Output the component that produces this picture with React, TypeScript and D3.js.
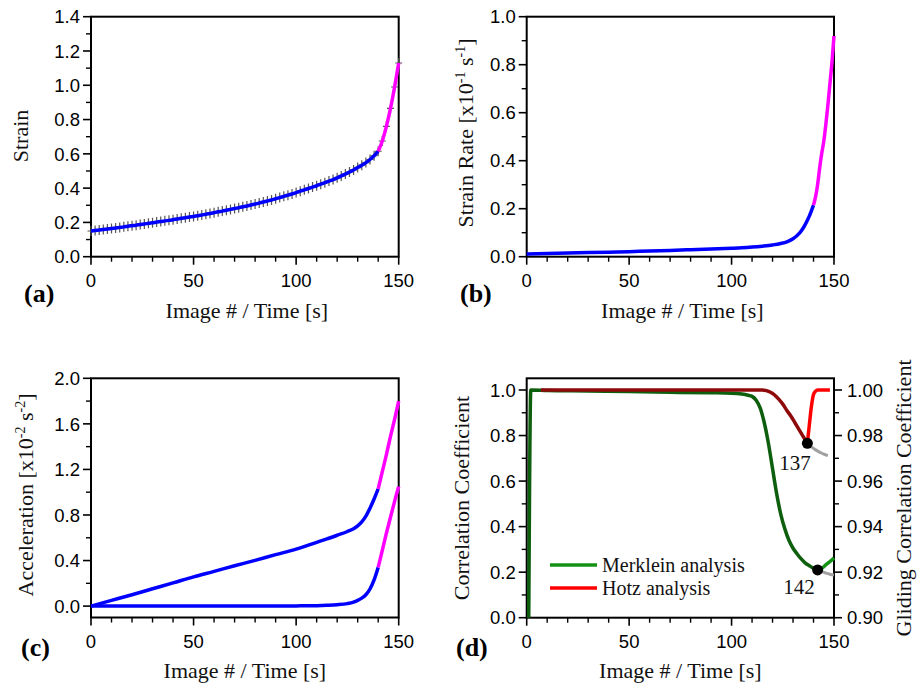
import React from 'react';
import * as d3 from 'd3';

// ---- values ----
const xMajor = [0, 50, 100, 150];
const xMinor = [10, 20, 30, 40, 60, 70, 80, 90, 110, 120, 130, 140];

// (a) strain, measured every 2 images, fit turns magenta after 140
const strainX = d3.range(0, 151, 2);
const strainY = [
  0.150, 0.153, 0.156, 0.159, 0.162, 0.165, 0.168, 0.171, 0.174, 0.178,
  0.181, 0.184, 0.188, 0.191, 0.195, 0.198, 0.202, 0.205, 0.209, 0.212,
  0.216, 0.220, 0.224, 0.227, 0.231, 0.235, 0.239, 0.243, 0.248, 0.252,
  0.257, 0.262, 0.266, 0.271, 0.276, 0.281, 0.286, 0.291, 0.296, 0.302,
  0.307, 0.313, 0.319, 0.325, 0.331, 0.338, 0.345, 0.352, 0.359, 0.366,
  0.374, 0.382, 0.390, 0.398, 0.406, 0.414, 0.423, 0.432, 0.441, 0.450,
  0.460, 0.471, 0.482, 0.494, 0.506, 0.520, 0.534, 0.549, 0.567, 0.589,
  0.615, 0.675, 0.760, 0.865, 0.990, 1.130,
];
const strainTicks = [0, 0.2, 0.4, 0.6, 0.8, 1.0, 1.2, 1.4];
const strainMinor = [0.1, 0.3, 0.5, 0.7, 0.9, 1.1, 1.3];

// (b) strain rate [x10^-1 s^-1]
const rateX = [0, 10, 20, 30, 40, 50, 60, 70, 80, 90, 100, 105, 110, 115, 120, 124, 127, 130, 132, 134, 136, 138, 140, 141, 142, 143, 144, 145, 146, 147, 148, 149, 150];
const rateY = [0.011, 0.013, 0.015, 0.017, 0.019, 0.021, 0.024, 0.026, 0.029, 0.032, 0.035, 0.037, 0.040, 0.044, 0.049, 0.055, 0.062, 0.075, 0.088, 0.107, 0.135, 0.170, 0.215, 0.25, 0.30, 0.37, 0.43, 0.48, 0.55, 0.63, 0.72, 0.81, 0.92];
const rateTicks = [0, 0.2, 0.4, 0.6, 0.8, 1.0];
const rateMinor = [0.1, 0.3, 0.5, 0.7, 0.9];

// (c) acceleration [x10^-2 s^-2], two curves
const accX = [0, 10, 20, 30, 40, 50, 60, 70, 80, 90, 100, 110, 115, 120, 125, 128, 130, 132, 134, 136, 138, 140, 142, 144, 146, 148, 150];
const accUpper = [0, 0.05, 0.10, 0.152, 0.204, 0.257, 0.305, 0.354, 0.402, 0.452, 0.500, 0.560, 0.590, 0.622, 0.655, 0.680, 0.705, 0.740, 0.790, 0.860, 0.940, 1.030, 1.180, 1.330, 1.490, 1.640, 1.800];
const accLower = [0, 0, 0, 0, 0, 0, 0, 0.001, 0.001, 0.001, 0.002, 0.004, 0.007, 0.012, 0.022, 0.035, 0.050, 0.070, 0.100, 0.150, 0.230, 0.340, 0.490, 0.640, 0.780, 0.920, 1.050];
const accTicks = [0, 0.4, 0.8, 1.2, 1.6, 2.0];
const accMinor = [0.2, 0.6, 1.0, 1.4, 1.8];

// (d) correlation coefficients
const merkleinX = [1, 2, 10, 30, 50, 70, 90, 100, 105, 108, 110, 112, 114, 116, 118, 120, 122, 124, 126, 128, 130, 132, 134, 136, 138, 140, 142, 144, 146, 148, 150];
const merkleinY = [0, 1.0, 0.998, 0.996, 0.993, 0.990, 0.988, 0.986, 0.982, 0.977, 0.972, 0.955, 0.920, 0.855, 0.765, 0.655, 0.545, 0.455, 0.390, 0.340, 0.305, 0.280, 0.258, 0.240, 0.228, 0.217, 0.210, 0.217, 0.232, 0.246, 0.262];
const merkleinTailX = [142, 144, 146, 148, 150];
const merkleinTailY = [0.210, 0.202, 0.196, 0.191, 0.187];
const merkleinAt = 142;

const hotzX = [7, 115, 117, 119, 121, 123, 125, 127, 129, 131, 133, 135, 137, 138, 139, 140, 141, 142, 148];
const hotzY = [1.0, 1.0, 0.9997, 0.999, 0.9978, 0.996, 0.9938, 0.991, 0.9885, 0.9855, 0.9825, 0.9795, 0.9766, 0.985, 0.993, 0.998, 0.9995, 1.0, 1.0];
const hotzTailX = [137, 139, 141, 143, 145, 147];
const hotzTailY = [0.9766, 0.975, 0.9737, 0.9727, 0.9718, 0.9712];
const hotzAt = 137;

const corrTicks = [0, 0.2, 0.4, 0.6, 0.8, 1.0];
const corrMinor = [0.1, 0.3, 0.5, 0.7, 0.9];
const glideTicks = [0.90, 0.92, 0.94, 0.96, 0.98, 1.00];
const glideMinor = [0.91, 0.93, 0.95, 0.97, 0.99];

const SANS = '"Liberation Sans", Arial, sans-serif';
const SERIF = '"Liberation Serif", "Times New Roman", serif';
const TICK_FS = 18.5;
const TITLE_FS = 22;
const BLUE = '#0000ff';
const MAGENTA = '#ff00ff';
const DKGREEN = '#0d5e0d';
const GREEN = '#139213';
const DKRED = '#8e0a0a';
const RED = '#ff0000';
const GREY = '#a0a0a0';

type Pt = [number, number];
const zip = (xs: number[], ys: number[]): Pt[] => xs.map((v, i) => [v, ys[i]]);
const part = (pts: Pt[], lo: number, hi: number) => pts.filter(p => p[0] >= lo && p[0] <= hi);

const mkLine = (x: any, y: any) =>
  d3.line<Pt>().x(d => x(d[0])).y(d => y(d[1])).curve(d3.curveMonotoneX);

function Frame({ x, y, major, minor, fmt }: any) {
  const [l, r] = x.range();
  const [b, t] = y.range();
  return (
    <g stroke="#000">
      {xMinor.map(v => <line key={'xm' + v} x1={x(v)} x2={x(v)} y1={b} y2={b + 5} strokeWidth={1.4} />)}
      {xMajor.map(v => (
        <g key={'xM' + v}>
          <line x1={x(v)} x2={x(v)} y1={b} y2={b + 8} strokeWidth={1.6} />
          <text x={x(v)} y={b + 30} textAnchor="middle" stroke="none" fill="#000"
            fontFamily={SANS} fontSize={TICK_FS}>{v}</text>
        </g>
      ))}
      {minor.map((v: number) => <line key={'ym' + v} x1={l - 5} x2={l} y1={y(v)} y2={y(v)} strokeWidth={1.4} />)}
      {major.map((v: number) => (
        <g key={'yM' + v}>
          <line x1={l - 8} x2={l} y1={y(v)} y2={y(v)} strokeWidth={1.6} />
          <text x={l - 11} y={y(v)} dy="0.36em" textAnchor="end" stroke="none" fill="#000"
            fontFamily={SANS} fontSize={TICK_FS}>{fmt(v)}</text>
        </g>
      ))}
      <rect x={l} y={t} width={r - l} height={b - t} fill="none" strokeWidth={2} />
    </g>
  );
}

function YTitle({ x, y, parts }: { x: number; y: number; parts: [string, boolean][] }) {
  let up = false;
  return (
    <text transform={`translate(${x},${y}) rotate(-90)`} textAnchor="middle"
      fontFamily={SERIF} fontSize={TITLE_FS} fill="#111">
      {parts.map(([s, sup], i) => {
        let dy = 0;
        if (sup && !up) { dy = -8; up = true; }
        else if (!sup && up) { dy = 8; up = false; }
        return <tspan key={i} dy={dy} fontSize={sup ? 14 : TITLE_FS}>{s}</tspan>;
      })}
    </text>
  );
}

function XTitle({ x, y }: { x: number; y: number }) {
  return <text x={x} y={y} textAnchor="middle" fontFamily={SERIF} fontSize={TITLE_FS} fill="#111">Image # / Time [s]</text>;
}

function Tag({ x, y, s }: { x: number; y: number; s: string }) {
  return <text x={x} y={y} fontFamily={SERIF} fontSize={26} fontWeight="bold" fill="#000">{s}</text>;
}

const fmt1 = d3.format('.1f');
const fmt2 = d3.format('.2f');

export default function App() {
  const xa = d3.scaleLinear().domain([0, 150]).range([91, 398.7]);
  const xb = d3.scaleLinear().domain([0, 150]).range([526.7, 834]);
  const ya = d3.scaleLinear().domain([0, 1.4]).range([256.7, 16.7]);
  const yb = d3.scaleLinear().domain([0, 1.0]).range([256.7, 16.7]);
  const yc = d3.scaleLinear().domain([-0.1, 2.0]).range([617.5, 378.3]);
  const yd = d3.scaleLinear().domain([0, 1.0]).range([617.7, 390]);
  const ydFull = d3.scaleLinear().domain([0, yd.invert(378.3)]).range([617.7, 378.3]);
  const yg = d3.scaleLinear().domain([0.9, 1.0]).range([617.7, 390]);

  const la = mkLine(xa, ya);
  const lb = mkLine(xb, yb);
  const lc = mkLine(xa, yc);
  const ld = mkLine(xb, yd);
  const lg = mkLine(xb, yg);

  const strain = zip(strainX, strainY);
  const rate = zip(rateX, rateY);
  const up = zip(accX, accUpper);
  const lo = zip(accX, accLower);
  const merk = zip(merkleinX, merkleinY);
  const hotz = zip(hotzX, hotzY);

  const mid = (x: any) => (x.range()[0] + x.range()[1]) / 2;
  const merkPt = merk.find(p => p[0] === merkleinAt)!;
  const hotzPt = hotz.find(p => p[0] === hotzAt)!;

  return (
    <svg width={919} height={686} style={{ position: 'absolute', left: 0, top: 0, background: '#fff' }}>
      {/* (a) */}
      <Frame x={xa} y={ya} major={strainTicks} minor={strainMinor} fmt={fmt1} />
      <g stroke="#555" strokeWidth={1.2}>
        {strain.map(([sx, sy]) => (
          <path key={sx} d={`M${xa(sx) - 3.5},${ya(sy)}H${xa(sx) + 3.5}M${xa(sx)},${ya(sy) - 5}V${ya(sy) + 5}`} />
        ))}
      </g>
      <path d={la(part(strain, 0, 140))!} fill="none" stroke={BLUE} strokeWidth={3.5} />
      <path d={la(part(strain, 140, 150))!} fill="none" stroke={MAGENTA} strokeWidth={3.5} />
      <YTitle x={28} y={136} parts={[['Strain', false]]} />
      <XTitle x={mid(xa) + 2} y={318} />
      <Tag x={24} y={302} s="(a)" />

      {/* (b) */}
      <Frame x={xb} y={yb} major={rateTicks} minor={rateMinor} fmt={fmt1} />
      <path d={lb(part(rate, 0, 140))!} fill="none" stroke={BLUE} strokeWidth={3.5} />
      <path d={lb(part(rate, 140, 150))!} fill="none" stroke={MAGENTA} strokeWidth={3.5} />
      <YTitle x={473} y={133} parts={[['Strain Rate [x10', false], ['-1', true], [' s', false], ['-1', true], [']', false]]} />
      <XTitle x={mid(xb) + 2} y={318} />
      <Tag x={460} y={302} s="(b)" />

      {/* (c) */}
      <Frame x={xa} y={yc} major={accTicks} minor={accMinor} fmt={fmt1} />
      <path d={lc(part(up, 0, 140))!} fill="none" stroke={BLUE} strokeWidth={3.5} />
      <path d={lc(part(up, 140, 150))!} fill="none" stroke={MAGENTA} strokeWidth={3.5} />
      <path d={lc(part(lo, 0, 140))!} fill="none" stroke={BLUE} strokeWidth={3.5} />
      <path d={lc(part(lo, 140, 150))!} fill="none" stroke={MAGENTA} strokeWidth={3.5} />
      <YTitle x={33} y={495} parts={[['Acceleration [x10', false], ['-2', true], [' s', false], ['-2', true], [']', false]]} />
      <XTitle x={mid(xa)} y={678} />
      <Tag x={21} y={656} s="(c)" />

      {/* (d) */}
      <Frame x={xb} y={ydFull} major={corrTicks} minor={corrMinor} fmt={fmt1} />
      <g stroke="#000">
        {glideMinor.map(v => <line key={'gm' + v} x1={834} x2={839} y1={yg(v)} y2={yg(v)} strokeWidth={1.4} />)}
        {glideTicks.map(v => (
          <g key={'gM' + v}>
            <line x1={834} x2={842} y1={yg(v)} y2={yg(v)} strokeWidth={1.6} />
            <text x={847} y={yg(v)} dy="0.36em" stroke="none" fill="#000" fontFamily={SANS} fontSize={TICK_FS}>{fmt2(v)}</text>
          </g>
        ))}
      </g>
      <path d={ld(zip(merkleinTailX, merkleinTailY))!} fill="none" stroke={GREY} strokeWidth={3} />
      <path d={lg(zip(hotzTailX, hotzTailY))!} fill="none" stroke={GREY} strokeWidth={3} />
      <path d={ld(part(merk, 0, merkleinAt))!} fill="none" stroke={DKGREEN} strokeWidth={3.5} />
      <path d={ld(part(merk, merkleinAt, 150))!} fill="none" stroke={GREEN} strokeWidth={3.5} />
      <path d={lg(part(hotz, 0, hotzAt))!} fill="none" stroke={DKRED} strokeWidth={3.5} />
      <path d={lg(part(hotz, hotzAt, 150))!} fill="none" stroke={RED} strokeWidth={3.5} />
      <circle cx={xb(merkPt[0])} cy={yd(merkPt[1])} r={5.5} fill="#000" />
      <circle cx={xb(hotzPt[0])} cy={yg(hotzPt[1])} r={5.5} fill="#000" />
      <text x={795} y={470} textAnchor="middle" fontFamily={SERIF} fontSize={21} fill="#111">{hotzAt}</text>
      <text x={799} y={594} textAnchor="middle" fontFamily={SERIF} fontSize={21} fill="#111">{merkleinAt}</text>
      <line x1={550} x2={597} y1={565} y2={565} stroke={GREEN} strokeWidth={3.5} />
      <text x={602} y={572} fontFamily={SERIF} fontSize={20} fill="#111">Merklein analysis</text>
      <line x1={550} x2={597} y1={588} y2={588} stroke={RED} strokeWidth={3.5} />
      <text x={602} y={595} fontFamily={SERIF} fontSize={20} fill="#111">Hotz analysis</text>
      <YTitle x={469} y={498} parts={[['Correlation Coefficient', false]]} />
      <YTitle x={911} y={498} parts={[['Gliding Correlation Coefficient', false]]} />
      <XTitle x={mid(xb)} y={678} />
      <Tag x={456} y={656} s="(d)" />
    </svg>
  );
}
